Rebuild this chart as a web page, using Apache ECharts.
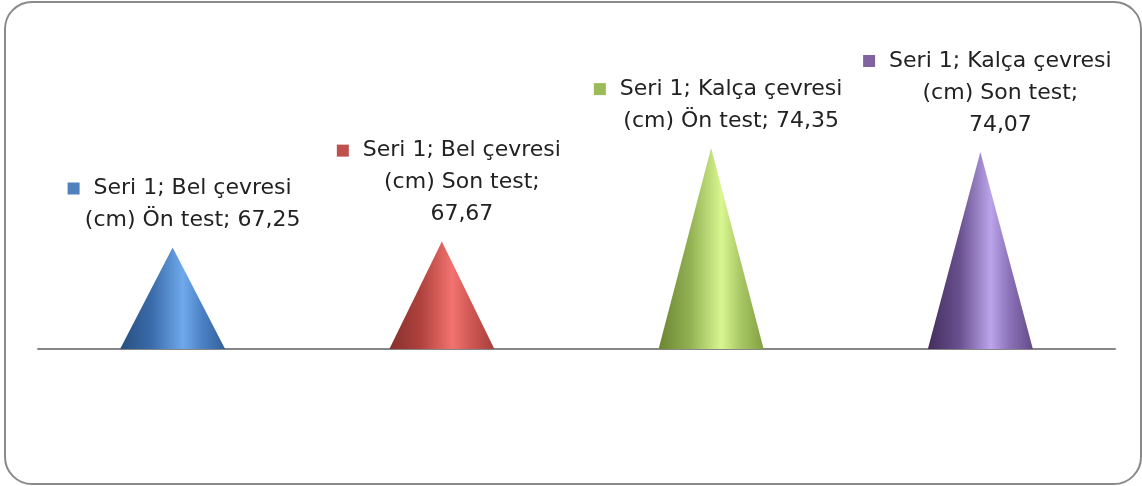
<!DOCTYPE html>
<html>
<head>
<meta charset="utf-8">
<script src="https://cdn.jsdelivr.net/npm/echarts@6/dist/echarts.min.js"></script>
<style>
  html, body { margin: 0; padding: 0; background: #ffffff; }
  #chart { width: 1142px; height: 486px; }
</style>
</head>
<body>
<div id="chart"></div>
<script>
// Series and categories
const seriesName = 'Seri 1';
const measures = ['Bel çevresi', 'Bel çevresi', 'Kalça çevresi', 'Kalça çevresi'];
const unit = '(cm)';
const tests = ['Ön test', 'Son test', 'Ön test', 'Son test'];
const values = [67.25, 67.67, 74.35, 74.07];
const categories = measures.map((m, i) => m + ' ' + unit + ' ' + tests[i]);

// Value axis range
const axisMin = 60;
const axisMax = 80;

// Base colours and cone shading (dark edge -> highlight -> shade)
const baseColors = ['#4F81BD', '#C0504D', '#9BBB59', '#8064A2'];
const coneStops = [
  ['#284F80', '#3A6BAA', '#6FA9EC', '#4B82C5', '#325F98'],
  ['#86302E', '#B0423E', '#F2736F', '#CE5753', '#A63F3C'],
  ['#6A8532', '#92B153', '#D9F790', '#A8C765', '#82A042'],
  ['#432E5D', '#68508E', '#BBA4EA', '#8B71B7', '#634B89']
];
const stopOffsets = [0, 0.3, 0.6, 0.78, 1];

function fmt(v) {
  return v.toFixed(2).replace('.', ',');
}

function labelText(i) {
  // marker on the left, equal blank on the right keeps the words centred
  const line1 = '{m|}  ' + seriesName + '; ' + measures[i] + '  {s|}';
  const tail = unit + ' ' + tests[i] + ';';
  // "Son test" labels wrap the value onto its own line
  const rest = tests[i] === 'Son test'
    ? tail + '\n' + fmt(values[i])
    : tail + ' ' + fmt(values[i]);
  return line1 + '\n' + rest;
}

const chart = echarts.init(document.getElementById('chart'), null, { renderer: 'canvas' });

chart.setOption({
  animation: false,
  backgroundColor: '#ffffff',
  graphic: [{
    type: 'rect',
    shape: { x: 5, y: 2, width: 1136, height: 482, r: 27 },
    style: { fill: 'none', stroke: '#8A8A8A', lineWidth: 2 },
    z: 10
  }],
  grid: { left: 38, right: 27, top: 69, bottom: 137 },
  xAxis: {
    type: 'category',
    data: categories,
    boundaryGap: true,
    axisLine: { show: true, lineStyle: { color: '#868686', width: 2 } },
    axisTick: { show: false },
    axisLabel: { show: false },
    splitLine: { show: false }
  },
  yAxis: {
    type: 'value',
    min: axisMin,
    max: axisMax,
    show: false,
    splitLine: { show: false }
  },
  series: [{
    name: seriesName,
    type: 'custom',
    data: values.map((v, i) => [i, v]),
    encode: { x: 0, y: 1 },
    z: 5,
    renderItem: function (params, api) {
      const i = params.dataIndex;
      const top = api.coord([api.value(0), api.value(1)]);
      const base = api.coord([api.value(0), axisMin]);
      const halfW = api.size([1, 0])[0] * 0.195;
      const grad = new echarts.graphic.LinearGradient(0, 0, 1, 0,
        stopOffsets.map((o, k) => ({ offset: o, color: coneStops[i][k] })));
      return {
        type: 'group',
        children: [{
          type: 'polygon',
          shape: { points: [[base[0] - halfW, base[1]], [top[0], top[1]], [base[0] + halfW, base[1]]] },
          style: { fill: grad }
        }, {
          type: 'text',
          x: top[0] + 20,
          y: top[1] - 11,
          style: {
            text: labelText(i),
            fill: '#222222',
            font: '22px "DejaVu Sans"',
            align: 'center',
            verticalAlign: 'bottom',
            lineHeight: 32,
            rich: {
              m: { width: 12, height: 12, backgroundColor: baseColors[i], lineHeight: 32 },
              s: { width: 12, height: 12, lineHeight: 32 }
            }
          }
        }]
      };
    }
  }]
});
</script>
</body>
</html>
